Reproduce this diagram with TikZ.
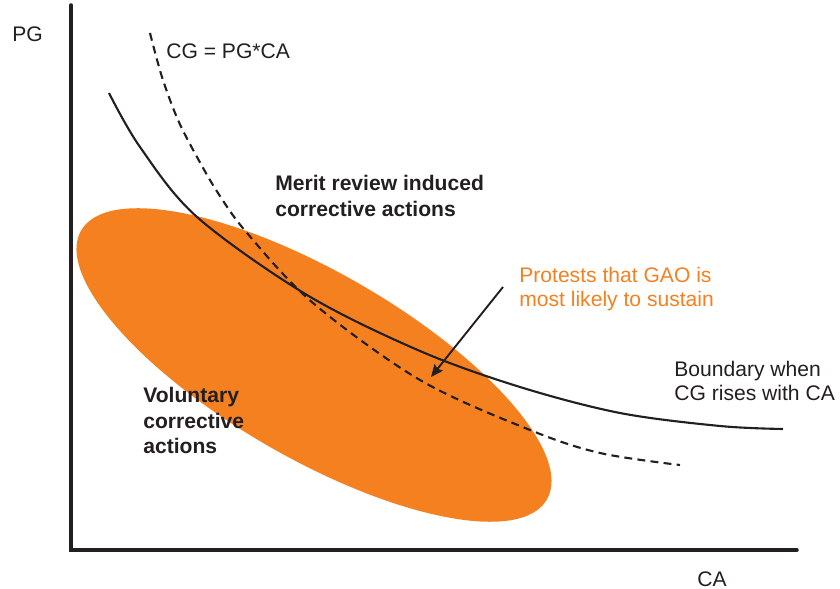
\documentclass[tikz,border=0pt]{standalone}
\usepackage{fontspec}
\setmainfont{Liberation Sans}
\usetikzlibrary{arrows.meta}
\definecolor{gaoorange}{RGB}{245,128,32}
\definecolor{inkdark}{RGB}{35,31,32}
\begin{document}
\begin{tikzpicture}[x=0.02cm,y=0.02cm,
  axisline/.style={line width=2pt,draw=inkdark,line cap=round},
  curveline/.style={line width=1.2pt,draw=inkdark},
  dashline/.style={line width=1.2pt,draw=inkdark,dash pattern=on 4.5pt off 3pt},
  plainlabel/.style={inner sep=0pt,anchor=north west,align=left,text=inkdark,font=\fontsize{12}{13.8}\selectfont},
  boldlabel/.style={inner sep=0pt,anchor=north west,align=left,text=inkdark,font=\fontsize{12}{14.6}\selectfont\bfseries},
  orangelabel/.style={inner sep=0pt,anchor=north west,align=left,text=gaoorange,font=\fontsize{12}{13.4}\selectfont},
  pointer/.style={line width=1.1pt,draw=inkdark,-{Stealth[length=7pt,width=6pt,inset=1pt]}}]
\useasboundingbox (0,0) rectangle (840,589);
% orange region
\fill[gaoorange,rotate around={-30:(314,224)}] (314,224) ellipse [x radius=5.38cm, y radius=1.86cm];
% axes
\draw[axisline] (71,584) -- (71,39) -- (797,39);
% boundary curve (solid)
\draw[curveline] plot[smooth,tension=0.55] coordinates {(109,496) (140,442) (197,372) (307,294) (420,238) (520,202) (620,176) (720,163) (783,160)};
% CG = PG*CA curve (dashed)
\draw[dashline] plot[smooth,tension=0.55] coordinates {(150,556) (162,512) (178,469) (197,432) (218,396) (247,356) (313,286) (420,209) (530,159) (600,136) (680,124)};
% labels
\node[plainlabel] (pg) at (12,563) {PG};
\node[plainlabel] (ca) at (697,18) {CA};
\node[plainlabel] (cgeq) at (166,546) {CG = PG*CA};
\node[boldlabel] (merit) at (275,414) {Merit review induced\\corrective actions};
\node[boldlabel] (voluntary) at (143,202) {Voluntary\\corrective\\actions};
\node[orangelabel] (protests) at (519,322) {Protests that GAO is\\most likely to sustain};
\node[plainlabel] (boundary) at (674,228) {Boundary when\\CG rises with CA};
% arrow
\coordinate (arrS) at (503,302);
\coordinate (arrE) at (431,212);
\draw[pointer] (arrS) -- (arrE);
\end{tikzpicture}
\end{document}
